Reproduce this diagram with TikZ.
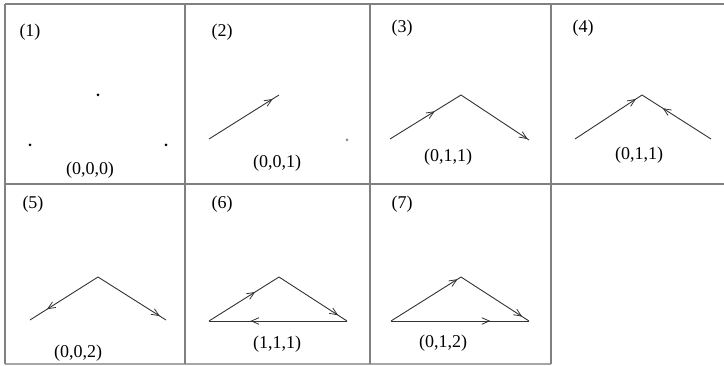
\documentclass[tikz,border=0pt]{standalone}
\usepackage{fontspec}
\setmainfont{Liberation Serif}
\usetikzlibrary{arrows.meta,decorations.markings}
\tikzset{
  gridline/.style={draw=black!50, line width=1.3pt},
  edge/.style={draw=black!80, line width=0.9pt},
  arrat/.style={postaction={decorate}, decoration={markings,
     mark=at position #1 with {\arrow{Straight Barb[length=7.5pt,width=6.5pt,line width=0.8pt]}}}},
  lbl/.style={font=\fontsize{18}{20}\selectfont, inner sep=0pt},
  dotv/.style={circle, fill=black, inner sep=0pt, minimum size=3pt},
}
\begin{document}
\begin{tikzpicture}[x=1pt,y=-1pt]
\useasboundingbox (0,0) rectangle (724,366);
% grid
\draw[gridline] (5,4) -- (724,4);
\draw[gridline] (5,184) -- (724,184);
\draw[gridline, draw=black!35] (5,364) -- (551,364);
\foreach \x in {5,185,370,551} \draw[gridline] (\x,4) -- (\x,364);
% cell 1
\node[lbl] (n1) at (30,32) {(1)};
\node[dotv] (a1) at (30,145) {};
\node[dotv] (b1) at (98,95) {};
\node[dotv] (c1) at (166,145) {};
\node[lbl] (t1) at (90,170) {(0,0,0)};
% cell 2
\node[lbl] (n2) at (222,32) {(2)};
\coordinate (a2) at (209,139);
\coordinate (b2) at (279,95);
\node[circle, fill=black!45, inner sep=0pt, minimum size=3pt] (c2) at (347,140) {};
\draw[edge, arrat=0.91] (a2) -- (b2);
\node[lbl] (t2) at (277,163) {(0,0,1)};
% cell 3
\node[lbl] (n3) at (402,28) {(3)};
\coordinate (a3) at (390,139);
\coordinate (b3) at (461,95);
\coordinate (c3) at (529,140);
\draw[edge, arrat=0.63] (a3) -- (b3);
\draw[edge, arrat=0.98] (b3) -- (c3);
\node[lbl] (t3) at (448,157) {(0,1,1)};
% cell 4
\node[lbl] (n4) at (583,28) {(4)};
\coordinate (a4) at (575,139);
\coordinate (b4) at (642,95);
\coordinate (c4) at (711,139);
\draw[edge, arrat=0.91] (a4) -- (b4);
\draw[edge, arrat=0.70] (c4) -- (b4);
\node[lbl] (t4) at (639,155) {(0,1,1)};
% cell 5
\node[lbl] (n5) at (33,204) {(5)};
\coordinate (a5) at (30,320);
\coordinate (b5) at (98,277);
\coordinate (c5) at (166,320);
\draw[edge, arrat=0.75] (b5) -- (a5);
\draw[edge, arrat=0.91] (b5) -- (c5);
\node[lbl] (t5) at (78,353) {(0,0,2)};
% cell 6
\node[lbl] (n6) at (222,204) {(6)};
\coordinate (a6) at (209,321);
\coordinate (b6) at (279,277);
\coordinate (c6) at (347,321);
\draw[edge, arrat=0.66] (a6) -- (b6);
\draw[edge, arrat=0.87] (b6) -- (c6);
\draw[edge, arrat=0.70] (c6) -- (a6);
\node[lbl] (t6) at (277,344) {(1,1,1)};
% cell 7
\node[lbl] (n7) at (402,204) {(7)};
\coordinate (a7) at (391,321);
\coordinate (b7) at (461,277);
\coordinate (c7) at (529,321);
\draw[edge, arrat=0.95] (a7) -- (b7);
\draw[edge, arrat=0.90] (b7) -- (c7);
\draw[edge, arrat=0.72] (a7) -- (c7);
\node[lbl] (t7) at (443,343) {(0,1,2)};
\end{tikzpicture}
\end{document}
